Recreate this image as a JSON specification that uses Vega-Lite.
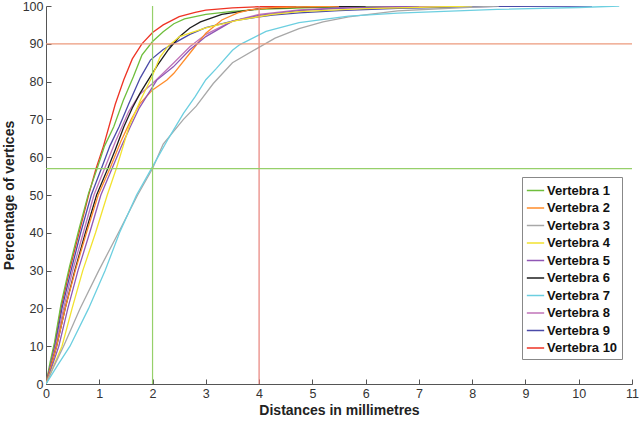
{
  "$schema": "https://vega.github.io/schema/vega-lite/v6.json",
  "autosize": "none",
  "width": 586,
  "height": 378,
  "padding": {"left": 46, "top": 6, "right": 8, "bottom": 37},
  "background": "white",
  "config": {
    "view": {"stroke": null},
    "font": "Liberation Sans",
    "axis": {
      "grid": false,
      "domainColor": "#555555",
      "tickColor": "#555555",
      "tickSize": -5,
      "labelPadding": 8,
      "labelFontSize": 12.5,
      "labelColor": "#333333",
      "labelFont": "Liberation Sans",
      "labelOverlap": false,
      "labelFlush": false,
      "titleFont": "Liberation Sans",
      "titleFontSize": 14,
      "titleFontWeight": "bold",
      "titleColor": "#222222"
    },
    "legend": {
      "labelFont": "Liberation Sans",
      "labelFontSize": 13,
      "labelFontWeight": "bold",
      "labelColor": "#111111"
    }
  },
  "datasets": {
    "curves": [
      {"v": "Vertebra 10", "x": 0, "y": 0}, {"v": "Vertebra 10", "x": 0.08, "y": 5}, {"v": "Vertebra 10", "x": 0.16, "y": 10}, {"v": "Vertebra 10", "x": 0.28, "y": 20}, {"v": "Vertebra 10", "x": 0.44, "y": 30}, {"v": "Vertebra 10", "x": 0.62, "y": 40}, {"v": "Vertebra 10", "x": 0.8, "y": 50}, {"v": "Vertebra 10", "x": 0.94, "y": 57}, {"v": "Vertebra 10", "x": 1.08, "y": 63}, {"v": "Vertebra 10", "x": 1.18, "y": 68}, {"v": "Vertebra 10", "x": 1.3, "y": 74}, {"v": "Vertebra 10", "x": 1.46, "y": 80.5}, {"v": "Vertebra 10", "x": 1.62, "y": 86}, {"v": "Vertebra 10", "x": 1.8, "y": 90}, {"v": "Vertebra 10", "x": 2.0, "y": 93}, {"v": "Vertebra 10", "x": 2.2, "y": 95}, {"v": "Vertebra 10", "x": 2.5, "y": 97.2}, {"v": "Vertebra 10", "x": 2.8, "y": 98.3}, {"v": "Vertebra 10", "x": 3.0, "y": 98.9}, {"v": "Vertebra 10", "x": 3.5, "y": 99.5}, {"v": "Vertebra 10", "x": 4.0, "y": 99.8}, {"v": "Vertebra 10", "x": 4.7, "y": 100},

      {"v": "Vertebra 1", "x": 0, "y": 0}, {"v": "Vertebra 1", "x": 0.08, "y": 6}, {"v": "Vertebra 1", "x": 0.16, "y": 11}, {"v": "Vertebra 1", "x": 0.28, "y": 21}, {"v": "Vertebra 1", "x": 0.44, "y": 31}, {"v": "Vertebra 1", "x": 0.62, "y": 41}, {"v": "Vertebra 1", "x": 0.8, "y": 50.5}, {"v": "Vertebra 1", "x": 0.96, "y": 57}, {"v": "Vertebra 1", "x": 1.1, "y": 63}, {"v": "Vertebra 1", "x": 1.27, "y": 68}, {"v": "Vertebra 1", "x": 1.45, "y": 75}, {"v": "Vertebra 1", "x": 1.64, "y": 81.3}, {"v": "Vertebra 1", "x": 1.8, "y": 87}, {"v": "Vertebra 1", "x": 2.0, "y": 90.6}, {"v": "Vertebra 1", "x": 2.2, "y": 93.2}, {"v": "Vertebra 1", "x": 2.4, "y": 95.3}, {"v": "Vertebra 1", "x": 2.6, "y": 96.6}, {"v": "Vertebra 1", "x": 3.0, "y": 97.8}, {"v": "Vertebra 1", "x": 3.5, "y": 98.6}, {"v": "Vertebra 1", "x": 4.0, "y": 99.1}, {"v": "Vertebra 1", "x": 5.0, "y": 99.6}, {"v": "Vertebra 1", "x": 6.5, "y": 100},

      {"v": "Vertebra 9", "x": 0, "y": 0}, {"v": "Vertebra 9", "x": 0.17, "y": 10}, {"v": "Vertebra 9", "x": 0.3, "y": 20}, {"v": "Vertebra 9", "x": 0.47, "y": 30}, {"v": "Vertebra 9", "x": 0.65, "y": 40}, {"v": "Vertebra 9", "x": 0.85, "y": 50}, {"v": "Vertebra 9", "x": 1.04, "y": 57}, {"v": "Vertebra 9", "x": 1.2, "y": 63}, {"v": "Vertebra 9", "x": 1.37, "y": 68}, {"v": "Vertebra 9", "x": 1.55, "y": 74}, {"v": "Vertebra 9", "x": 1.77, "y": 81}, {"v": "Vertebra 9", "x": 1.96, "y": 85.7}, {"v": "Vertebra 9", "x": 2.2, "y": 88.5}, {"v": "Vertebra 9", "x": 2.4, "y": 90.1}, {"v": "Vertebra 9", "x": 2.7, "y": 92.5}, {"v": "Vertebra 9", "x": 3.0, "y": 94.3}, {"v": "Vertebra 9", "x": 3.6, "y": 96.3}, {"v": "Vertebra 9", "x": 4.25, "y": 97.6}, {"v": "Vertebra 9", "x": 4.75, "y": 98.2}, {"v": "Vertebra 9", "x": 5.5, "y": 98.8}, {"v": "Vertebra 9", "x": 6.6, "y": 99.4}, {"v": "Vertebra 9", "x": 8.5, "y": 99.9}, {"v": "Vertebra 9", "x": 10.25, "y": 100},

      {"v": "Vertebra 8", "x": 0, "y": 0}, {"v": "Vertebra 8", "x": 0.18, "y": 10}, {"v": "Vertebra 8", "x": 0.33, "y": 20}, {"v": "Vertebra 8", "x": 0.5, "y": 30}, {"v": "Vertebra 8", "x": 0.7, "y": 40}, {"v": "Vertebra 8", "x": 0.9, "y": 50}, {"v": "Vertebra 8", "x": 1.1, "y": 57}, {"v": "Vertebra 8", "x": 1.3, "y": 64}, {"v": "Vertebra 8", "x": 1.55, "y": 72}, {"v": "Vertebra 8", "x": 1.75, "y": 76.5}, {"v": "Vertebra 8", "x": 2.0, "y": 79.5}, {"v": "Vertebra 8", "x": 2.4, "y": 85}, {"v": "Vertebra 8", "x": 2.7, "y": 89.2}, {"v": "Vertebra 8", "x": 3.0, "y": 92.5}, {"v": "Vertebra 8", "x": 3.5, "y": 96}, {"v": "Vertebra 8", "x": 4.0, "y": 97.8}, {"v": "Vertebra 8", "x": 4.75, "y": 99}, {"v": "Vertebra 8", "x": 5.5, "y": 99.5}, {"v": "Vertebra 8", "x": 7.5, "y": 100},

      {"v": "Vertebra 6", "x": 0, "y": 0}, {"v": "Vertebra 6", "x": 0.2, "y": 10}, {"v": "Vertebra 6", "x": 0.36, "y": 20}, {"v": "Vertebra 6", "x": 0.54, "y": 30}, {"v": "Vertebra 6", "x": 0.74, "y": 40}, {"v": "Vertebra 6", "x": 0.95, "y": 50}, {"v": "Vertebra 6", "x": 1.16, "y": 57}, {"v": "Vertebra 6", "x": 1.3, "y": 62}, {"v": "Vertebra 6", "x": 1.46, "y": 68}, {"v": "Vertebra 6", "x": 1.62, "y": 73}, {"v": "Vertebra 6", "x": 1.77, "y": 77}, {"v": "Vertebra 6", "x": 1.9, "y": 80}, {"v": "Vertebra 6", "x": 2.1, "y": 84.5}, {"v": "Vertebra 6", "x": 2.3, "y": 88.5}, {"v": "Vertebra 6", "x": 2.5, "y": 91.8}, {"v": "Vertebra 6", "x": 2.7, "y": 94.2}, {"v": "Vertebra 6", "x": 2.9, "y": 95.8}, {"v": "Vertebra 6", "x": 3.3, "y": 97.8}, {"v": "Vertebra 6", "x": 4.0, "y": 99.3}, {"v": "Vertebra 6", "x": 5.0, "y": 99.8}, {"v": "Vertebra 6", "x": 6.0, "y": 100},

      {"v": "Vertebra 2", "x": 0, "y": 0}, {"v": "Vertebra 2", "x": 0.2, "y": 10}, {"v": "Vertebra 2", "x": 0.36, "y": 20}, {"v": "Vertebra 2", "x": 0.55, "y": 30}, {"v": "Vertebra 2", "x": 0.76, "y": 40}, {"v": "Vertebra 2", "x": 0.98, "y": 50}, {"v": "Vertebra 2", "x": 1.2, "y": 57}, {"v": "Vertebra 2", "x": 1.4, "y": 64}, {"v": "Vertebra 2", "x": 1.6, "y": 70}, {"v": "Vertebra 2", "x": 1.77, "y": 74.3}, {"v": "Vertebra 2", "x": 2.0, "y": 77.8}, {"v": "Vertebra 2", "x": 2.27, "y": 80.4}, {"v": "Vertebra 2", "x": 2.4, "y": 82.2}, {"v": "Vertebra 2", "x": 2.7, "y": 87.5}, {"v": "Vertebra 2", "x": 3.0, "y": 92.8}, {"v": "Vertebra 2", "x": 3.3, "y": 96.3}, {"v": "Vertebra 2", "x": 3.6, "y": 98.2}, {"v": "Vertebra 2", "x": 3.82, "y": 99}, {"v": "Vertebra 2", "x": 4.3, "y": 99.6}, {"v": "Vertebra 2", "x": 5.5, "y": 100},

      {"v": "Vertebra 5", "x": 0, "y": 0}, {"v": "Vertebra 5", "x": 0.24, "y": 10}, {"v": "Vertebra 5", "x": 0.41, "y": 20}, {"v": "Vertebra 5", "x": 0.6, "y": 30}, {"v": "Vertebra 5", "x": 0.82, "y": 40}, {"v": "Vertebra 5", "x": 1.03, "y": 50}, {"v": "Vertebra 5", "x": 1.24, "y": 57}, {"v": "Vertebra 5", "x": 1.42, "y": 63}, {"v": "Vertebra 5", "x": 1.58, "y": 68}, {"v": "Vertebra 5", "x": 1.75, "y": 73}, {"v": "Vertebra 5", "x": 2.08, "y": 80.4}, {"v": "Vertebra 5", "x": 2.39, "y": 83.9}, {"v": "Vertebra 5", "x": 2.7, "y": 88.4}, {"v": "Vertebra 5", "x": 3.0, "y": 91.9}, {"v": "Vertebra 5", "x": 3.5, "y": 96}, {"v": "Vertebra 5", "x": 4.0, "y": 97.5}, {"v": "Vertebra 5", "x": 4.75, "y": 98.8}, {"v": "Vertebra 5", "x": 5.5, "y": 99.4}, {"v": "Vertebra 5", "x": 7.0, "y": 100},

      {"v": "Vertebra 4", "x": 0, "y": 0}, {"v": "Vertebra 4", "x": 0.3, "y": 10}, {"v": "Vertebra 4", "x": 0.49, "y": 20}, {"v": "Vertebra 4", "x": 0.69, "y": 30}, {"v": "Vertebra 4", "x": 0.93, "y": 40}, {"v": "Vertebra 4", "x": 1.15, "y": 50}, {"v": "Vertebra 4", "x": 1.32, "y": 57}, {"v": "Vertebra 4", "x": 1.45, "y": 63}, {"v": "Vertebra 4", "x": 1.55, "y": 67.7}, {"v": "Vertebra 4", "x": 1.77, "y": 75}, {"v": "Vertebra 4", "x": 1.99, "y": 81.3}, {"v": "Vertebra 4", "x": 2.14, "y": 86.5}, {"v": "Vertebra 4", "x": 2.3, "y": 89.5}, {"v": "Vertebra 4", "x": 2.51, "y": 91.9}, {"v": "Vertebra 4", "x": 2.7, "y": 92.8}, {"v": "Vertebra 4", "x": 3.0, "y": 94.2}, {"v": "Vertebra 4", "x": 3.63, "y": 96.3}, {"v": "Vertebra 4", "x": 4.25, "y": 97.8}, {"v": "Vertebra 4", "x": 4.75, "y": 98.5}, {"v": "Vertebra 4", "x": 6.0, "y": 99.3}, {"v": "Vertebra 4", "x": 8.0, "y": 100},

      {"v": "Vertebra 3", "x": 0, "y": 0}, {"v": "Vertebra 3", "x": 0.16, "y": 5}, {"v": "Vertebra 3", "x": 0.33, "y": 10}, {"v": "Vertebra 3", "x": 0.64, "y": 20}, {"v": "Vertebra 3", "x": 0.99, "y": 30}, {"v": "Vertebra 3", "x": 1.36, "y": 40}, {"v": "Vertebra 3", "x": 1.72, "y": 50}, {"v": "Vertebra 3", "x": 2.0, "y": 57}, {"v": "Vertebra 3", "x": 2.2, "y": 63.5}, {"v": "Vertebra 3", "x": 2.58, "y": 70}, {"v": "Vertebra 3", "x": 2.82, "y": 73.5}, {"v": "Vertebra 3", "x": 3.14, "y": 79.5}, {"v": "Vertebra 3", "x": 3.5, "y": 85}, {"v": "Vertebra 3", "x": 3.94, "y": 88.6}, {"v": "Vertebra 3", "x": 4.3, "y": 91.5}, {"v": "Vertebra 3", "x": 4.75, "y": 94}, {"v": "Vertebra 3", "x": 5.2, "y": 95.8}, {"v": "Vertebra 3", "x": 5.68, "y": 97.1}, {"v": "Vertebra 3", "x": 6.6, "y": 98.7}, {"v": "Vertebra 3", "x": 7.85, "y": 99.6}, {"v": "Vertebra 3", "x": 8.5, "y": 100},

      {"v": "Vertebra 7", "x": 0, "y": 0}, {"v": "Vertebra 7", "x": 0.22, "y": 5}, {"v": "Vertebra 7", "x": 0.45, "y": 10}, {"v": "Vertebra 7", "x": 0.8, "y": 20}, {"v": "Vertebra 7", "x": 1.11, "y": 30}, {"v": "Vertebra 7", "x": 1.38, "y": 40}, {"v": "Vertebra 7", "x": 1.7, "y": 50}, {"v": "Vertebra 7", "x": 2.0, "y": 57.5}, {"v": "Vertebra 7", "x": 2.3, "y": 65}, {"v": "Vertebra 7", "x": 2.58, "y": 71.6}, {"v": "Vertebra 7", "x": 2.8, "y": 76}, {"v": "Vertebra 7", "x": 3.0, "y": 80.5}, {"v": "Vertebra 7", "x": 3.2, "y": 83.5}, {"v": "Vertebra 7", "x": 3.5, "y": 88.3}, {"v": "Vertebra 7", "x": 3.64, "y": 89.8}, {"v": "Vertebra 7", "x": 4.13, "y": 93.3}, {"v": "Vertebra 7", "x": 4.75, "y": 95.6}, {"v": "Vertebra 7", "x": 5.68, "y": 97.3}, {"v": "Vertebra 7", "x": 6.6, "y": 98.1}, {"v": "Vertebra 7", "x": 8.47, "y": 99.1}, {"v": "Vertebra 7", "x": 10.0, "y": 99.6}, {"v": "Vertebra 7", "x": 10.76, "y": 100}
    ]
  },
  "layer": [
    {
      "data": {"name": "curves"},
      "mark": {"type": "line", "strokeWidth": 1.3, "clip": true},
      "encoding": {
        "x": {
          "field": "x", "type": "quantitative",
          "scale": {"domain": [0, 11], "nice": false},
          "axis": {"values": [0,1,2,3,4,5,6,7,8,9,10,11], "title": "Distances in millimetres", "titlePadding": 4}
        },
        "y": {
          "field": "y", "type": "quantitative",
          "scale": {"domain": [0, 100], "nice": false},
          "axis": {"values": [0,10,20,30,40,50,60,70,80,90,100], "title": "Percentage of vertices", "titlePadding": 6}
        },
        "color": {
          "field": "v", "type": "nominal",
          "scale": {
            "domain": ["Vertebra 1","Vertebra 2","Vertebra 3","Vertebra 4","Vertebra 5","Vertebra 6","Vertebra 7","Vertebra 8","Vertebra 9","Vertebra 10"],
            "range": ["#6fbe3c","#ff8c2a","#a8a8a8","#f2e22e","#9057b5","#1e1e1e","#6ccfe0","#c073b8","#4a4aa8","#ee3324"]
          },
          "legend": {
            "title": null,
            "orient": "none",
            "legendX": 476,
            "legendY": 171,
            "symbolType": "stroke",
            "symbolSize": 300,
            "symbolStrokeWidth": 1.5,
            "rowPadding": 0.5,
            "padding": 4,
            "labelOffset": 2,
            "strokeColor": "#888888",
            "fillColor": "white"
          }
        }
      }
    },
    {
      "data": {"values": [{"x": 2}]},
      "mark": {"type": "rule", "color": "#96d06a", "strokeWidth": 1.2},
      "encoding": {"x": {"field": "x", "type": "quantitative", "axis": {"values": [0,1,2,3,4,5,6,7,8,9,10,11], "title": "Distances in millimetres", "titlePadding": 4}}}
    },
    {
      "data": {"values": [{"x": 4}]},
      "mark": {"type": "rule", "color": "#e8807a", "strokeWidth": 1.2},
      "encoding": {"x": {"field": "x", "type": "quantitative", "axis": {"values": [0,1,2,3,4,5,6,7,8,9,10,11], "title": "Distances in millimetres", "titlePadding": 4}}}
    },
    {
      "data": {"values": [{"y": 57}]},
      "mark": {"type": "rule", "color": "#96d06a", "strokeWidth": 1.2},
      "encoding": {"y": {"field": "y", "type": "quantitative", "axis": {"values": [0,10,20,30,40,50,60,70,80,90,100], "title": "Percentage of vertices", "titlePadding": 6}}}
    },
    {
      "data": {"values": [{"y": 90}]},
      "mark": {"type": "rule", "color": "#ec9a7c", "strokeWidth": 1.2},
      "encoding": {"y": {"field": "y", "type": "quantitative", "axis": {"values": [0,10,20,30,40,50,60,70,80,90,100], "title": "Percentage of vertices", "titlePadding": 6}}}
    }
  ]
}
